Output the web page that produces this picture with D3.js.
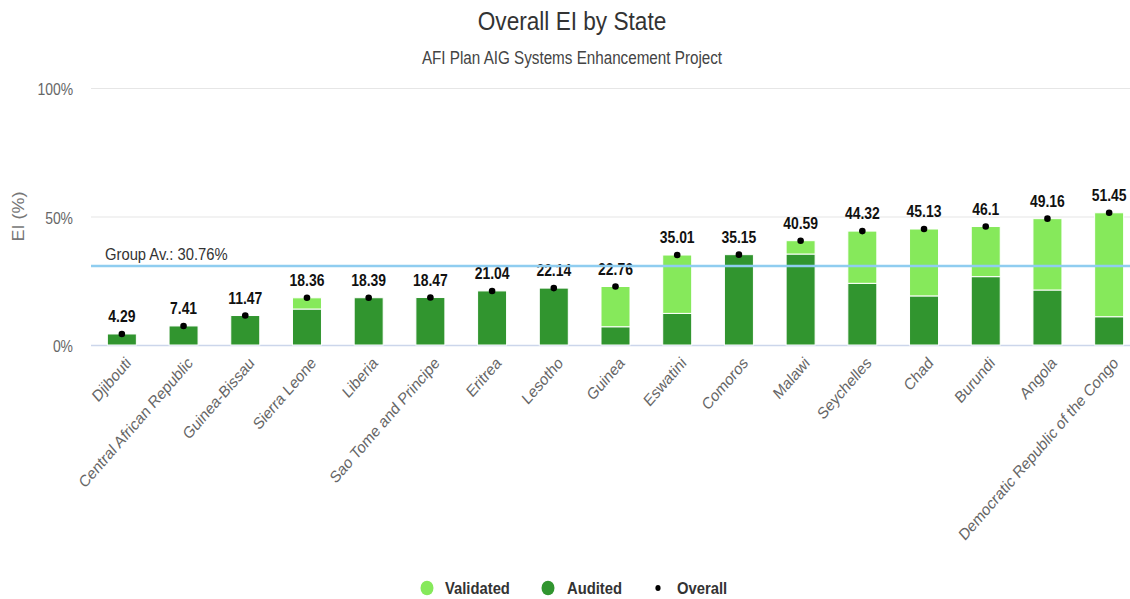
<!DOCTYPE html>
<html><head><meta charset="utf-8">
<script src="https://cdn.jsdelivr.net/npm/d3@7/dist/d3.min.js"></script>
<style>body{margin:0;background:#fff;font-family:"Liberation Sans",Arial,sans-serif;}</style>
</head><body>
<svg id="c" width="1130" height="599"></svg>
<script>
const states = ["Djibouti","Central African Republic","Guinea-Bissau","Sierra Leone","Liberia","Sao Tome and Principe","Eritrea","Lesotho","Guinea","Eswatini","Comoros","Malawi","Seychelles","Chad","Burundi","Angola","Democratic Republic of the Congo"];
const overall = [4.29,7.41,11.47,18.36,18.39,18.47,21.04,22.14,22.76,35.01,35.15,40.59,44.32,45.13,46.1,49.16,51.45];
const audited = [4.29,7.41,11.47,14.0,18.39,18.47,21.04,22.14,7.1,12.3,35.15,35.4,24.0,19.1,26.6,21.4,11.0];
const validated = overall.map((v,i)=>+(v-audited[i]).toFixed(2));
const groupAvg = 30.76;
const yTicks = [0,50,100];

const SX = 0.87;
const svg = d3.select("#c");
const x = d3.scaleBand().domain(states).range([91,1140]).paddingInner(0.53).paddingOuter(0.265);
const y = d3.scaleLinear().domain([0,100]).range([345,88]);
const cDark = "#31952f", cLight = "#86e95b";
const tr = (px,py,extra="") => `translate(${px},${py}) scale(${SX},1)${extra}`;

svg.append("text").attr("transform",tr(572,30)).attr("text-anchor","middle")
  .attr("font-size",26).attr("fill","#333").text("Overall EI by State");
svg.append("text").attr("transform",tr(572,64)).attr("text-anchor","middle")
  .attr("font-size",17.5).attr("fill","#444").text("AFI Plan AIG Systems Enhancement Project");

// grid
svg.append("g").selectAll("line").data(yTicks).join("line")
  .attr("x1",91).attr("x2",1130).attr("y1",d=>y(d)+0.5).attr("y2",d=>y(d)+0.5)
  .attr("stroke",d=>d===0?"#ccd6eb":"#e6e6e6").attr("stroke-width",d=>d===0?1.5:1.2);
svg.append("g").selectAll("text").data(yTicks).join("text")
  .attr("transform",d=>tr(73,y(d)+7)).attr("text-anchor","end")
  .attr("font-size",16).attr("fill","#666").text(d=>d+"%");
svg.append("text").attr("transform",tr(24,y(50)," rotate(-90)"))
  .attr("text-anchor","middle").attr("font-size",18).attr("fill","#777").text("EI (%)");

// bars
const bw = x.bandwidth();
const g = svg.append("g");
g.selectAll("rect.a").data(states).join("rect").attr("class","a")
  .attr("x",d=>x(d)).attr("width",bw)
  .attr("y",(d,i)=>y(audited[i])).attr("height",(d,i)=>y(0)-y(audited[i]))
  .attr("fill",cDark).attr("stroke","#fff").attr("stroke-width",1);
g.selectAll("rect.v").data(states).join("rect").attr("class","v")
  .attr("x",d=>x(d)).attr("width",bw)
  .attr("y",(d,i)=>y(overall[i])).attr("height",(d,i)=>y(audited[i])-y(overall[i]))
  .attr("fill",cLight).attr("stroke","#fff").attr("stroke-width",1)
  .attr("display",(d,i)=>validated[i]>0?null:"none");

// group average line
svg.append("line").attr("x1",91).attr("x2",1130).attr("y1",y(groupAvg)).attr("y2",y(groupAvg))
  .attr("stroke","#8fcdf0").attr("stroke-width",2.5);
svg.append("text").attr("transform",tr(105,y(groupAvg)-6)).attr("font-size",17).attr("fill","#333")
  .text("Group Av.: "+groupAvg+"%");

// dots and labels
g.selectAll("circle").data(states).join("circle")
  .attr("cx",d=>x(d)+bw/2).attr("cy",(d,i)=>y(overall[i])).attr("r",3.3).attr("fill","#000");
g.selectAll("text.lbl").data(states).join("text").attr("class","lbl")
  .attr("transform",(d,i)=>tr(x(d)+bw/2,y(overall[i])-12)).attr("text-anchor","middle")
  .attr("font-size",16).attr("font-weight","bold").attr("fill","#111")
  .text((d,i)=>overall[i]);

// x labels
svg.append("g").selectAll("text").data(states).join("text")
  .attr("transform",d=>tr(x(d)+bw/2+10,364," rotate(-45)"))
  .attr("text-anchor","end").attr("font-size",16.5).attr("fill","#666").text(d=>d);

// legend
const leg = [{n:"Validated",c:cLight,r:6.5,x:427,t:445},{n:"Audited",c:cDark,r:6.5,x:548,t:567},{n:"Overall",c:"#000",r:2.6,x:658,t:677}];
const lg = svg.append("g").selectAll("g").data(leg).join("g");
lg.append("ellipse").attr("cx",d=>d.x).attr("cy",588).attr("rx",d=>d.r).attr("ry",d=>d.r*1.12).attr("fill",d=>d.c);
lg.append("text").attr("transform",d=>tr(d.t,594)).attr("font-size",17).attr("font-weight","bold").attr("fill","#333").text(d=>d.n);
</script>
</body></html>
